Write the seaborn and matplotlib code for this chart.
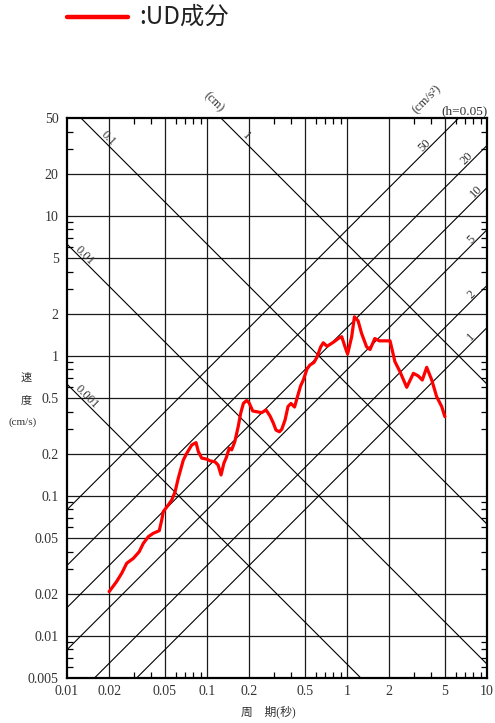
import numpy as np
import pandas as pd
import matplotlib
matplotlib.use("Agg")
import matplotlib.pyplot as plt
from matplotlib.lines import Line2D
from matplotlib.ticker import FixedLocator, NullFormatter, FixedFormatter
import seaborn as sns

# Velocity response spectrum, UD component (h = 0.05)
period = [0.020, 0.0226, 0.0246, 0.0267, 0.0298, 0.0328, 0.0351, 0.0381, 0.0413, 0.0456,
          0.0475, 0.0487, 0.0529, 0.0560, 0.0591, 0.0624, 0.0677, 0.0716, 0.0778, 0.0835,
          0.0867, 0.0917, 0.0995, 0.105, 0.114, 0.120, 0.126, 0.132, 0.138, 0.144,
          0.150, 0.158, 0.167, 0.174, 0.182, 0.192, 0.200, 0.212, 0.226, 0.246,
          0.264, 0.282, 0.298, 0.311, 0.329, 0.342, 0.361, 0.379, 0.398, 0.422,
          0.443, 0.466, 0.489, 0.518, 0.544, 0.581, 0.611, 0.649, 0.677, 0.720,
          0.798, 0.867, 0.917, 0.968, 1.01, 1.08, 1.13, 1.20, 1.27, 1.38,
          1.46, 1.58, 1.70, 2.03, 2.09, 2.20, 2.39, 2.67, 2.98, 3.23,
          3.45, 3.71, 4.03, 4.37, 4.75, 5.0]
velocity = [0.0207, 0.0244, 0.0280, 0.0330, 0.0358, 0.0399, 0.0458, 0.0511, 0.0540, 0.0564,
            0.0672, 0.0771, 0.0861, 0.0934, 0.1066, 0.134, 0.180, 0.201, 0.231, 0.240,
            0.207, 0.186, 0.183, 0.178, 0.175, 0.166, 0.141, 0.171, 0.190, 0.219,
            0.213, 0.244, 0.312, 0.389, 0.458, 0.480, 0.461, 0.404, 0.399, 0.393,
            0.411, 0.372, 0.330, 0.295, 0.287, 0.299, 0.348, 0.435, 0.457, 0.431,
            0.512, 0.609, 0.678, 0.806, 0.861, 0.897, 0.982, 1.16, 1.24, 1.17,
            1.25, 1.33, 1.37, 1.16, 1.03, 1.37, 1.90, 1.78, 1.45, 1.16,
            1.11, 1.33, 1.28, 1.28, 1.13, 0.908, 0.771, 0.596, 0.750, 0.718,
            0.672, 0.828, 0.672, 0.511, 0.434, 0.368]

# Tripartite guide lines: displacement (cm) and acceleration (cm/s^2)
disp_levels = [0.001, 0.01, 0.1, 1]
disp_labels = ["0.001", "0.01", "0.1", "1"]
disp_label_period = [0.0130, 0.0127, 0.0187, 0.18]
accel_levels = [1, 2, 5, 10, 20, 50]
accel_labels = ["1", "2", "5", "10", "20", "50"]
accel_label_period = [8.1, 8.2, 8.1, 8.9, 7.6, 3.8]

x_ticks = [0.01, 0.02, 0.05, 0.1, 0.2, 0.5, 1, 2, 5, 10]
x_tick_labels = ["0.01", "0.02", "0.05", "0.1", "0.2", "0.5", "1", "2", "5", "10"]
y_ticks = [0.005, 0.01, 0.02, 0.05, 0.1, 0.2, 0.5, 1, 2, 5, 10, 20, 50]
y_tick_labels = ["0.005", "0.01", "0.02", "0.05", "0.1", "0.2", "0.5", "1", "2", "5",
                 "10", "20", "50"]

sns.set_style("white")
plt.rcParams["font.family"] = ["Liberation Serif", "Noto Sans CJK JP", "DejaVu Sans"]

W, H = 495, 723
fig = plt.figure(figsize=(W / 100, H / 100), dpi=100)
ax = fig.add_axes([67 / W, 1 - 678 / H, 420 / W, 560 / H])
ax.set_xscale("log")
ax.set_yscale("log")
ax.set_xlim(0.01, 10)
ax.set_ylim(0.005, 50)

# grid at 1-2-5 steps
for v in x_ticks[1:-1]:
    ax.axvline(v, color="#1a1a1a", lw=0.9, zorder=1)
for v in y_ticks[1:-1]:
    ax.axhline(v, color="#1a1a1a", lw=0.9, zorder=1)

two_pi = 2 * np.pi
t_span = np.array([1e-3, 1e2])
label_kw = dict(fontsize=9, color="#333333", ha="center", va="center",
                rotation_mode="anchor", textcoords="offset points")
for d, lab, tl in zip(disp_levels, disp_labels, disp_label_period):
    ax.plot(t_span, two_pi * d / t_span, color="black", lw=0.8, zorder=2)
    ax.annotate(lab, xy=(tl, two_pi * d / tl), xytext=(2.4, 2.4), rotation=-45, **label_kw)
for a, lab, tl in zip(accel_levels, accel_labels, accel_label_period):
    ax.plot(t_span, a * t_span / two_pi, color="black", lw=0.8, zorder=2)
    ax.annotate(lab, xy=(tl, a * tl / two_pi), xytext=(-2.4, 2.4), rotation=45, **label_kw)

df = pd.DataFrame({"period": period, "velocity": velocity})
sns.lineplot(data=df, x="period", y="velocity", ax=ax, color="#ff0000", lw=2.3,
             sort=False, estimator=None, zorder=5)
ax.set_xlabel("")
ax.set_ylabel("")

# ticks
ax.xaxis.set_major_locator(FixedLocator(x_ticks))
ax.xaxis.set_major_formatter(FixedFormatter(x_tick_labels))
ax.yaxis.set_major_locator(FixedLocator(y_ticks))
ax.yaxis.set_major_formatter(FixedFormatter(y_tick_labels))
decades = [0.001, 0.01, 0.1, 1, 10]
minor = [m * d for d in decades for m in (3, 4, 6, 7, 8, 9)]
ax.xaxis.set_minor_locator(FixedLocator([m for m in minor if 0.01 < m < 10]))
ax.yaxis.set_minor_locator(FixedLocator([m for m in minor if 0.005 < m < 50]))
ax.xaxis.set_minor_formatter(NullFormatter())
ax.yaxis.set_minor_formatter(NullFormatter())
ax.tick_params(which="major", length=0, labelsize=10, labelcolor="#333333")
ax.tick_params(axis="x", which="major", pad=5)
ax.tick_params(axis="y", which="major", pad=6)
ax.tick_params(which="minor", direction="in", length=4.5, width=0.9, color="black",
               top=True, right=True, bottom=True, left=True)
for s in ax.spines.values():
    s.set_color("black")
    s.set_linewidth(1.6)
    s.set_zorder(6)


def fx(px):
    return px / W


def fy(py):
    return 1 - py / H


txt = dict(color="#333333", ha="center", va="center")
fig.text(fx(214), fy(102), "(cm)", fontsize=9, rotation=-45, **txt)
fig.text(fx(427), fy(99), "(cm/s²)", fontsize=9, rotation=45, **txt)
fig.text(fx(488), fy(111), "(h=0.05)", fontsize=9.5, color="#333333", ha="right", va="center")

fig.text(fx(26), fy(378), "速", fontsize=8, **txt)
fig.text(fx(26), fy(400), "度", fontsize=8, **txt)
fig.text(fx(23), fy(422), "(cm/s)", fontsize=8, **txt)
fig.text(fx(268), fy(712), "周　期(秒)", fontsize=8.5, **txt)

# legend entry
fig.add_artist(Line2D([fx(67), fx(128)], [fy(17), fy(17)], color="#ff0000", lw=3.2))
fig.text(fx(139), fy(17), ":UD成分", fontsize=17.5, color="#222222", ha="left", va="center",
         family=["Noto Sans CJK JP", "DejaVu Sans"])

fig.savefig("out.png", dpi=100)
